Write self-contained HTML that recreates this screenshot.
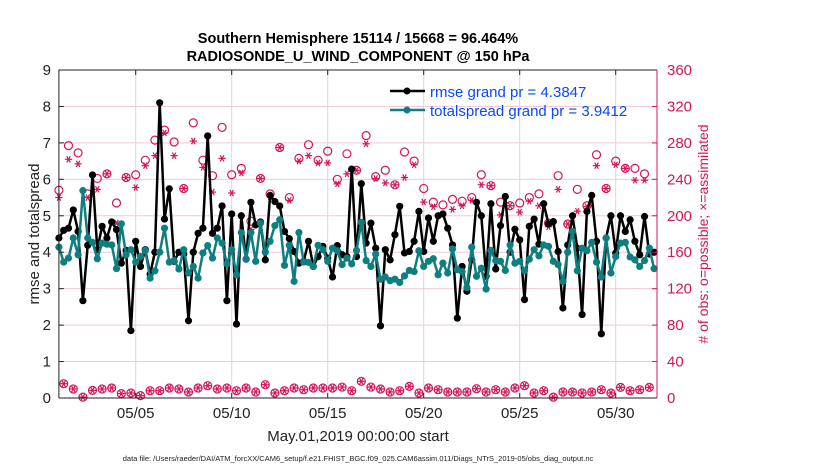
<!DOCTYPE html>
<html><head><meta charset="utf-8"><style>
body{margin:0;background:#fff;}
svg text{font-family:"Liberation Sans",sans-serif;}
</style></head><body>
<svg id="chart" width="830" height="470" xmlns="http://www.w3.org/2000/svg">
<rect width="830" height="470" fill="#fff"/>
<g id="grid"></g>
<g id="marks"></g>
<g id="axes"></g>
<text x="358" y="43" text-anchor="middle" font-size="14.5" font-weight="bold">Southern Hemisphere 15114 / 15668 = 96.464%</text>
<text x="358" y="61" text-anchor="middle" font-size="14.5" font-weight="bold">RADIOSONDE_U_WIND_COMPONENT @ 150 hPa</text>
<text x="358" y="441" text-anchor="middle" font-size="15" fill="#222">May.01,2019 00:00:00 start</text>
<text x="358" y="461" text-anchor="middle" font-size="7.5" fill="#222">data file: /Users/raeder/DAI/ATM_forcXX/CAM6_setup/f.e21.FHIST_BGC.f09_025.CAM6assim.011/Diags_NTrS_2019-05/obs_diag_output.nc</text>
<text transform="translate(39,234) rotate(-90)" text-anchor="middle" font-size="15" fill="#222">rmse and totalspread</text>
<text transform="translate(708,234) rotate(-90)" text-anchor="middle" font-size="14" fill="#d6145a"># of obs: o=possible; ×=assimilated</text>
<g>
<line x1="390" y1="91" x2="425" y2="91" stroke="#000" stroke-width="2.5"/>
<circle cx="407" cy="91" r="3.5" fill="#000"/>
<text x="430" y="97" font-size="15" fill="#0a4af5">rmse grand pr = 4.3847</text>
<line x1="390" y1="110" x2="425" y2="110" stroke="#0e7f80" stroke-width="2.5"/>
<circle cx="407" cy="110" r="3.5" fill="#0e7f80"/>
<text x="430" y="116" font-size="15" fill="#0a4af5">totalspread grand pr = 3.9412</text>
</g>
</svg>
<script>
const rmse=[4.39,4.6,4.66,5.16,4.57,2.67,4.19,6.12,4.07,4.71,4.39,4.83,4.62,3.7,4.05,1.85,4.3,3.61,4.07,3.4,4.0,8.1,4.91,5.74,3.75,4.0,3.95,2.12,4.0,4.52,4.66,7.19,4.52,4.66,5.27,2.67,5.05,2.03,5.0,3.81,5.37,4.75,4.83,3.79,5.56,5.39,5.27,4.57,4.37,4.02,3.7,3.75,4.3,3.61,3.88,4.16,3.84,3.32,4.18,3.93,3.88,6.28,3.88,5.88,4.25,4.8,4.11,1.98,4.07,3.79,4.48,5.26,3.98,4.02,4.3,5.12,4.02,4.94,4.3,5.0,5.05,4.66,4.2,2.19,3.61,2.93,3.79,5.37,5.0,3.34,5.33,3.54,4.73,5.53,4.0,4.63,4.34,2.7,4.71,4.91,4.22,5.33,4.78,4.84,4.02,2.47,4.2,5.0,4.11,2.29,5.12,5.56,4.3,1.76,4.39,5.0,3.98,5.0,4.57,4.89,4.3,3.93,4.98,3.95,4.0];
const spread=[4.14,3.73,3.84,4.39,3.93,5.69,4.39,4.27,3.82,4.25,4.22,4.2,3.55,4.78,3.93,4.07,3.73,3.88,4.05,3.29,3.49,4.0,4.66,3.73,3.77,3.54,4.07,3.43,3.61,3.29,3.98,4.18,3.84,4.39,4.25,3.68,4.07,3.38,4.54,3.81,4.54,3.75,4.8,4.0,4.3,4.73,4.89,3.64,4.19,3.2,4.54,3.73,3.72,3.61,4.19,4.07,3.75,4.11,4.04,3.66,3.84,3.68,4.05,4.82,3.77,3.61,3.95,3.26,3.32,3.22,3.26,3.17,3.35,3.5,3.47,4.04,3.61,3.75,3.82,3.38,3.7,3.43,4.09,3.52,3.47,3.03,4.14,3.34,3.56,2.99,4.05,3.77,3.75,3.5,4.2,3.7,3.75,3.49,3.81,4.07,3.9,4.2,4.16,3.75,3.66,3.2,4.0,4.57,3.49,4.11,4.04,4.27,3.73,3.32,4.39,3.43,3.88,4.25,4.27,3.87,3.79,3.61,3.77,4.11,3.55];
const possible=[228,277,269,224,241,246,214,242,245,261,283,294,281,230,302,261,244,297,245,252,194,241,224,275,220,263,278,261,271,240,268,250,288,243,250,234,270,260,230,215,212,218,216,220,245,233,215,211,214,220,224,192,244,191,229,211,267,230,260,252,252,246];
const assimilated=[220,262,257,220,229,246,192,242,231,255,266,291,266,230,282,253,226,263,225,247,185,241,221,275,217,260,266,258,258,235,246,250,279,241,236,234,242,256,215,210,202,207,211,217,234,233,201,211,204,216,211,188,229,191,205,210,255,230,256,252,239,239];
const offCount=[15.7,9.9,1,8.4,9.9,11,4.8,5.5,2.6,8,8,11,9.9,6.6,11,13.5,9.9,11,8,11,6.6,14.6,5.5,8,11,9.1,11,11,11,12,8,18.3,12,9.9,6.6,8,12.8,5.5,11,9.1,6.6,6.6,6.6,10.2,6.6,9.1,6.6,11,13.5,5.5,8,1,6.6,6.6,5.5,6.6,9.1,5.5,11.7,8,9.1,11.7];
const yTicks=[0,1,2,3,4,5,6,7,8,9];
const rTicks=[0,40,80,120,160,200,240,280,320,360];
const xTickDays=[4,9,14,19,24,29];
const xTickLabels=["05/05","05/10","05/15","05/20","05/25","05/30"];

const L=58.9,R=657,T=70,B=398,DMAX=31.15,STEP=0.25;
const xs=d=>L+(d/DMAX)*(R-L);
const ys=v=>B-(v/9)*(B-T);
const yr=v=>B-(v/360)*(B-T);
const NS="http://www.w3.org/2000/svg";
function mk(tag,attrs,parent){const e=document.createElementNS(NS,tag);for(const k in attrs)e.setAttribute(k,attrs[k]);parent.appendChild(e);return e;}
const grid=document.getElementById('grid'),marks=document.getElementById('marks'),axes=document.getElementById('axes');

yTicks.forEach(v=>{if(v===0||v===9)return;
 const l=mk('line',{x1:L,x2:R,y1:ys(v),y2:ys(v),stroke:'#f3c9d8','stroke-width':1},grid);
 
 });
xTickDays.forEach((d,i)=>{
 const l=mk('line',{x1:xs(d),x2:xs(d),y1:T,y2:B,stroke:'#d8d8d8','stroke-width':1},grid);
 
 
 const t=mk('text',{x:xs(d),y:418,'text-anchor':'middle','font-size':15,fill:'#222'},axes);t.textContent=xTickLabels[i];
 
 
 mk('line',{x1:xs(d),x2:xs(d),y1:B,y2:B-5,stroke:'#222'},axes);
 mk('line',{x1:xs(d),x2:xs(d),y1:T,y2:T+5,stroke:'#222'},axes);});
yTicks.forEach(v=>{
 const t=mk('text',{x:51,y:ys(v)+5,'text-anchor':'end','font-size':15,fill:'#222'},axes);t.textContent=v;
 
 
 mk('line',{x1:L,x2:L+5,y1:ys(v),y2:ys(v),stroke:'#222'},axes);});
rTicks.forEach(v=>{
 const t=mk('text',{x:667,y:yr(v)+5,'font-size':15,fill:'#d6145a'},axes);t.textContent=v;
 
 
 mk('line',{x1:R-5,x2:R,y1:yr(v),y2:yr(v),stroke:'#d6145a'},axes);});
mk('line',{x1:L,x2:R,y1:T,y2:T,stroke:'#222'},axes);
mk('line',{x1:L,x2:L,y1:T,y2:B,stroke:'#222'},axes);
mk('line',{x1:L,x2:R,y1:B,y2:B,stroke:'#222'},axes);
mk('line',{x1:R,x2:R,y1:T,y2:B,stroke:'#d6145a'},axes);

const PINK='#d6145a';
function star(x,y,g){const r=3.6;
 mk('line',{x1:x-r,x2:x+r,y1:y,y2:y,stroke:PINK,'stroke-width':1.2},g);
 mk('line',{x1:x-r*0.5,x2:x+r*0.5,y1:y-r*0.87,y2:y+r*0.87,stroke:PINK,'stroke-width':1.2},g);
 mk('line',{x1:x+r*0.5,x2:x-r*0.5,y1:y-r*0.87,y2:y+r*0.87,stroke:PINK,'stroke-width':1.2},g);}
const obsG=mk('g',{},marks);


possible.forEach((v,k)=>{const x=xs(2*k*STEP);
 const c=mk('circle',{cx:x,cy:yr(v),r:4,fill:'none',stroke:PINK,'stroke-width':1.2},obsG);
 
 });
assimilated.forEach((v,k)=>star(xs(2*k*STEP),yr(v),obsG));
offCount.forEach((v,k)=>{const x=xs((2*k+1)*STEP);
 const c=mk('circle',{cx:x,cy:yr(v),r:4,fill:'none',stroke:PINK,'stroke-width':1.2},obsG);
 
 
 star(x,yr(v),obsG);});

function series(arr,color,name){
 const g=mk('g',{},marks);
 
 
 const pts=arr.map((v,i)=>xs(i*STEP).toFixed(1)+','+ys(v).toFixed(1)).join(' ');
 const p=mk('polyline',{points:pts,fill:'none',stroke:color,'stroke-width':2.5,'stroke-linejoin':'round'},g);
 
 
 arr.forEach((v,i)=>{const c=mk('circle',{cx:xs(i*STEP),cy:ys(v),r:3.6,fill:color},g);
  
  });}
series(rmse,'#000','rmse-series');
series(spread,'#0e7f80','totalspread-series');
</script>
</body></html>
